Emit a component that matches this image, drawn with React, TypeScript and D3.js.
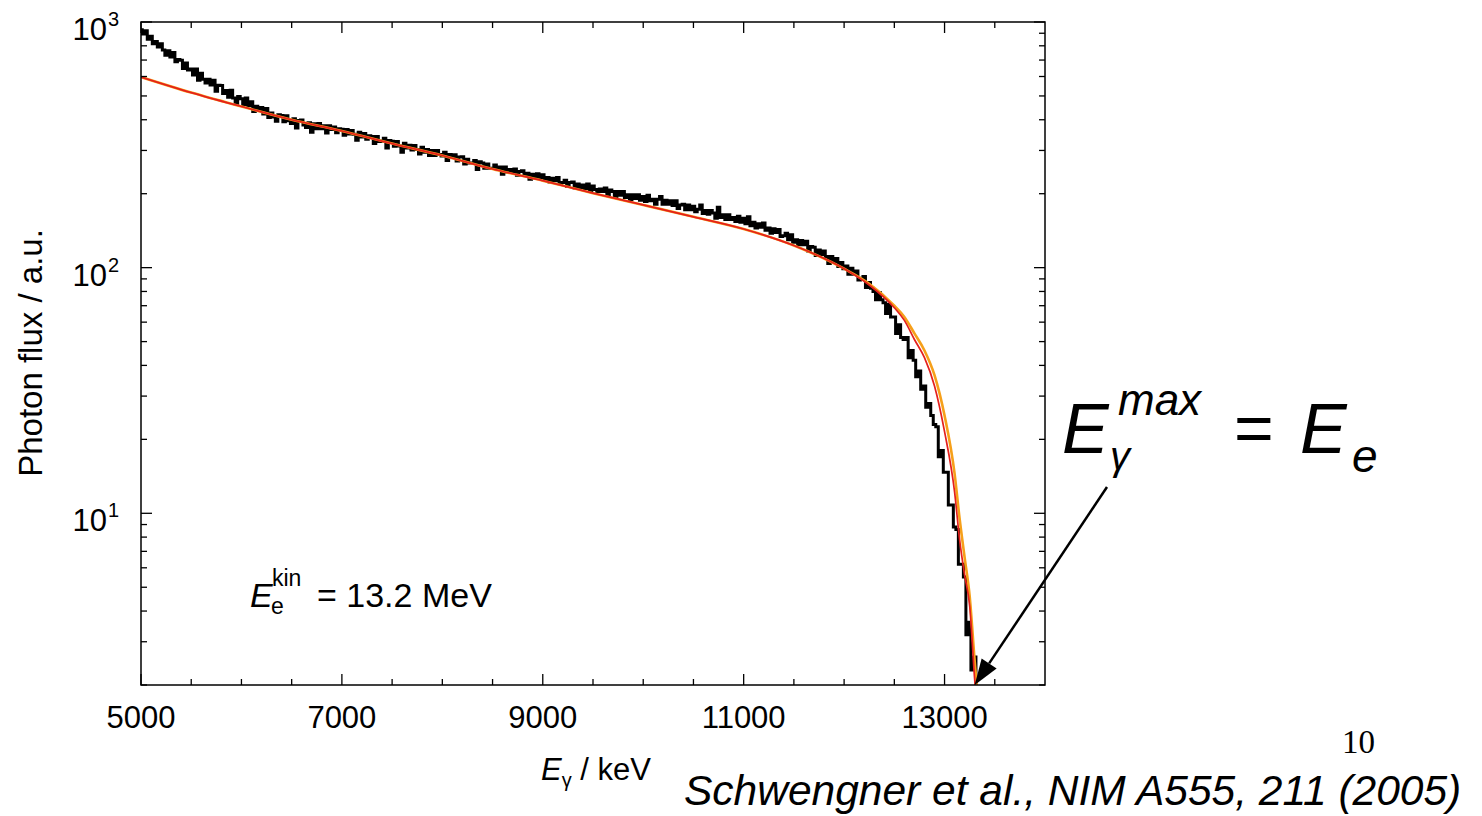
import React from "react";
import * as d3 from "d3";

const W = 1482;
const H = 816;

// Measured spectrum: photon flux per 25 keV bin starting at 5000 keV
const binStart = 5000;
const binWidth = 25;
const photonFlux = [
  930, 894, 921, 850, 875, 816, 833, 792, 816, 770, 732, 764, 720, 751, 689, 704,
  699, 646, 681, 637, 644, 609, 644, 579, 618, 585, 565, 585, 554, 579, 522, 553,
  551, 512, 526, 494, 528, 491, 465, 498, 487, 462, 490, 456, 474, 432, 454, 436,
  449, 422, 444, 409, 426, 410, 394, 419, 416, 393, 415, 396,
  386, 404, 370, 397, 399, 381, 372, 389, 356, 385, 368, 386, 368, 378, 353, 378,
  365, 374, 354, 368,
  366, 346, 365, 350, 362, 349, 330, 356, 340, 352, 333, 344, 342, 320, 342, 326,
  328, 336, 307, 329,
  327, 312, 326, 313, 295, 321, 307, 315, 301, 314, 303, 290, 309, 295, 303, 286,
  300, 286, 300, 289,
  285, 295, 273, 289, 281, 288, 272, 282, 283, 264, 276, 267, 267, 273, 251, 270,
  267, 254, 264, 254,
  253, 262, 252, 257, 240, 257, 245, 251, 246, 252, 238, 246, 248, 237, 242, 229,
  240, 232, 241, 233,
  239, 228, 233, 223, 231, 226, 233, 220, 222, 227, 214, 222, 223, 211, 219, 212,
  217, 210, 219, 204,
  215, 208, 204, 209, 204, 211, 198, 207, 204, 193, 204, 197, 204, 193, 198, 189,
  198, 191, 198, 188,
  195, 186, 197, 187, 190, 181, 190, 195, 181, 188, 181, 187, 179, 187, 174, 180,
  181, 172, 180, 172,
  178, 169, 173, 180, 166, 171, 165, 171, 167, 159, 176, 160, 164, 157, 164, 157,
  160, 154, 162, 153,
  159, 151, 161, 148, 153, 145, 151, 146, 152, 142, 145, 138, 144, 139, 143, 134,
  135, 138, 130, 136,
  127, 130, 124, 129, 124, 128, 117, 122, 121, 112, 118, 113, 117, 111, 104, 111,
  106, 109, 101, 105,
  99, 101.5, 94, 99.5, 94, 97, 89, 90.5, 92, 83, 87, 82.5, 80, 74, 79, 74,
  72, 65, 71, 63,
  63, 54, 58.5, 52, 51, 52, 43, 46, 42, 36, 38, 32, 33, 27, 28, 25,
  23, 22.5, 17, 18,
  14.7, 14.7, 10.8, 10.8, 8.8, 8.6, 6.2, 6.2, 5.5, 3.2, 3.6, 2.3,
  2.6, 1.4, 0.9,
];

// Fitted bremsstrahlung curves
const fitEnergy = [5000, 5500, 6000, 6500, 7000, 7500, 8000, 8500, 9000, 9500, 10000, 10500, 11000, 11500, 12000, 12250, 12500, 12600, 12700, 12800, 12900, 13000, 13100, 13150, 13200, 13250, 13300, 13340];
const fitRed = [597, 516, 453, 400, 360, 320, 286, 252, 226, 201, 180, 161, 143.6, 123, 99, 85, 68.7, 61, 51, 43, 33, 21.5, 12.2, 7.8, 5.6, 4.2, 2.1, 1.3];
const fitOrange = [597, 516, 453, 400, 360, 320, 286, 252, 226, 201, 180, 161, 143.6, 123, 99, 86, 70, 63, 54, 46, 36.5, 25, 14.5, 9.5, 6.6, 4.6, 2.5, 1.6];

const xMajorTicks = [5000, 7000, 9000, 11000, 13000];
const xMinorTicks = [5500, 6000, 6500, 7500, 8000, 8500, 9500, 10000, 10500, 11500, 12000, 12500, 13500];
const yDecades = [10, 100, 1000];
const yDecadeExp = ["1", "2", "3"];
const yMinorTicks = [2, 3, 4, 5, 6, 7, 8, 9, 20, 30, 40, 50, 60, 70, 80, 90, 200, 300, 400, 500, 600, 700, 800, 900];

const L = 141, R = 1045, T = 22, B = 685;
const FONT = "'Liberation Sans', Arial, Helvetica, sans-serif";

export default function App() {
  const x = d3.scaleLinear().domain([5000, 14000]).range([L, R]);
  const y = d3.scaleLog().domain([2, 1000]).range([B, T]);

  const spectrum = photonFlux.map((v, i) => [binStart + i * binWidth, v] as [number, number]);
  const specLine = d3
    .line<[number, number]>()
    .x((d) => x(d[0]))
    .y((d) => y(Math.max(d[1], 0.5)))
    .curve(d3.curveStep);

  const fitLine = (vals: number[]) =>
    d3
      .line<number>()
      .x((_, i) => x(fitEnergy[i]))
      .y((d) => y(Math.max(d, 0.5)))
      .curve(d3.curveMonotoneX)(vals) || "";

  // arrow geometry
  const ax0 = 1107, ay0 = 487;
  const ax1 = x(13300), ay1 = y(2);
  const dx = ax1 - ax0, dy = ay1 - ay0;
  const len = Math.hypot(dx, dy);
  const ux = dx / len, uy = dy / len;
  const headL = 26, headW = 9;
  const bx = ax1 - ux * headL, by = ay1 - uy * headL;
  const head = [
    [ax1, ay1],
    [bx - uy * headW, by + ux * headW],
    [bx + uy * headW, by - ux * headW],
  ]
    .map((p) => p.join(","))
    .join(" ");

  return (
    <div style={{ position: "absolute", left: 0, top: 0, width: W, height: H, background: "#fff" }}>
      <svg width={W} height={H} style={{ display: "block" }} fontFamily={FONT}>
        <defs>
          <clipPath id="plotClip">
            <rect x={L} y={T} width={R - L} height={B - T} />
          </clipPath>
        </defs>

        <g clipPath="url(#plotClip)">
          <path d={specLine(spectrum) || ""} fill="none" stroke="#000" strokeWidth={3} />
          <path d={fitLine(fitOrange)} fill="none" stroke="#f6a01a" strokeWidth={2.6} />
          <path d={fitLine(fitRed)} fill="none" stroke="#e4201c" strokeWidth={1.7} />
        </g>

        {/* frame */}
        <rect x={L} y={T} width={R - L} height={B - T} fill="none" stroke="#000" strokeWidth={1.5} />

        {/* x ticks */}
        {xMajorTicks.map((t) => (
          <g key={"xM" + t}>
            <line x1={x(t)} x2={x(t)} y1={B} y2={B - 11} stroke="#000" strokeWidth={1.3} />
            <line x1={x(t)} x2={x(t)} y1={T} y2={T + 11} stroke="#000" strokeWidth={1.3} />
            <text x={x(t)} y={728} fontSize={31} textAnchor="middle">
              {t}
            </text>
          </g>
        ))}
        {xMinorTicks.map((t) => (
          <g key={"xm" + t}>
            <line x1={x(t)} x2={x(t)} y1={B} y2={B - 6} stroke="#000" strokeWidth={1.3} />
            <line x1={x(t)} x2={x(t)} y1={T} y2={T + 6} stroke="#000" strokeWidth={1.3} />
          </g>
        ))}

        {/* y ticks */}
        {yDecades.map((t, i) => (
          <g key={"yM" + t}>
            <line x1={L} x2={L + 11} y1={y(t)} y2={y(t)} stroke="#000" strokeWidth={1.3} />
            <line x1={R} x2={R - 11} y1={y(t)} y2={y(t)} stroke="#000" strokeWidth={1.3} />
            <text x={107} y={y(t) + 18} fontSize={31} textAnchor="end">
              10
            </text>
            <text x={108} y={y(t) + 4} fontSize={20}>
              {yDecadeExp[i]}
            </text>
          </g>
        ))}
        {yMinorTicks.map((t) => (
          <g key={"ym" + t}>
            <line x1={L} x2={L + 6} y1={y(t)} y2={y(t)} stroke="#000" strokeWidth={1.3} />
            <line x1={R} x2={R - 6} y1={y(t)} y2={y(t)} stroke="#000" strokeWidth={1.3} />
          </g>
        ))}

        {/* axis labels */}
        <text transform="translate(42,353) rotate(-90)" fontSize={33} textAnchor="middle">
          Photon flux / a.u.
        </text>
        <text x={541} y={780} fontSize={31}>
          <tspan fontStyle="italic">E</tspan>
          <tspan fontSize={20} dy={7}>γ</tspan>
          <tspan dy={-7}> / keV</tspan>
        </text>

        {/* in-plot annotation */}
        <text x={250} y={607} fontSize={34} fontStyle="italic">E</text>
        <text x={271} y={614} fontSize={23}>e</text>
        <text x={272} y={586} fontSize={23}>kin</text>
        <text x={317} y={607} fontSize={34}> = 13.2 MeV</text>

        {/* big formula */}
        <g fontStyle="italic">
          <text x={1062} y={453} fontSize={70}>E</text>
          <text x={1118} y={415} fontSize={44}>max</text>
          <text x={1110} y={470} fontSize={40}>γ</text>
          <text x={1300} y={453} fontSize={70}>E</text>
          <text x={1352} y={472} fontSize={46}>e</text>
        </g>
        <text x={1234} y={452} fontSize={68}>=</text>

        {/* arrow */}
        <line x1={ax0} y1={ay0} x2={bx} y2={by} stroke="#000" strokeWidth={2.5} />
        <polygon points={head} fill="#000" />

        {/* page number & reference */}
        <text x={1342} y={753} fontSize={33} fontFamily="'Liberation Serif', 'Times New Roman', serif">
          10
        </text>
        <text x={684} y={805} fontSize={42.5} fontStyle="italic">
          Schwengner et al., NIM A555, 211 (2005)
        </text>
      </svg>
    </div>
  );
}
